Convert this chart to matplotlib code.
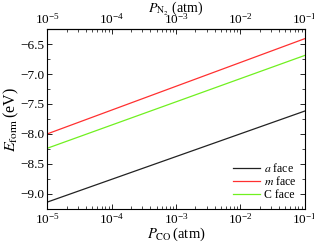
# Formation energy of the three faces against the CO / N2 partial pressure.

import numpy as np
import matplotlib
matplotlib.use("Agg")
import matplotlib.pyplot as plt
from matplotlib.ticker import LogLocator, MultipleLocator, NullFormatter

# Plot configuration.
plt.rcParams["font.family"] = ["Liberation Serif", "DejaVu Serif"]
plt.rcParams["mathtext.fontset"] = "stix"
plt.rcParams["font.size"] = 9.5

# Data: line end points at P = 1e-5 and 1e-1 atm.
pressure = [1e-5, 1e-1]
e_a_face = [-9.14, -7.62]
e_m_face = [-8.00, -6.41]
e_c_face = [-8.24, -6.69]
face_labels = [r"$a$ face", r"$m$ face", "C face"]
face_colors = ["#222222", "#ff3030", "#70f020"]

fig = plt.figure(figsize=(3.14, 2.43), dpi=100)
ax = fig.add_axes([0.151, 0.139, 0.819, 0.741])

for energies, label, color in zip([e_a_face, e_m_face, e_c_face], face_labels, face_colors):
    ax.plot(pressure, energies, color=color, lw=0.9, label=label)

ax.set_xscale("log")
ax.set_xlim(1e-5, 1e-1)
ax.set_ylim(-9.26, -6.25)
ax.yaxis.set_major_locator(MultipleLocator(0.5))
ax.yaxis.set_minor_locator(MultipleLocator(0.25))
ax.xaxis.set_minor_locator(LogLocator(base=10, subs=np.arange(2, 10)))
ax.xaxis.set_minor_formatter(NullFormatter())

ax.tick_params(which="both", direction="in", right=True, pad=2)
ax.tick_params(which="major", length=3.5, width=0.6)
ax.tick_params(which="minor", length=2, width=0.5)
for spine in ax.spines.values():
    spine.set_linewidth(0.8)

ax.set_xlabel(r"$P_{\mathrm{CO}}\,$(atm)", fontsize=10.5, labelpad=-1)
ax.set_ylabel(r"$E_{\mathrm{form}}\,$(eV)", fontsize=11.5, labelpad=0)

# Top axis for the N2 pressure, same scale.
top = ax.secondary_xaxis("top")
top.xaxis.set_minor_locator(LogLocator(base=10, subs=np.arange(2, 10)))
top.xaxis.set_minor_formatter(NullFormatter())
top.tick_params(which="both", direction="in", pad=2)
top.tick_params(which="major", length=3.5, width=0.6)
top.tick_params(which="minor", length=2, width=0.5)
top.set_xlabel(r"$P_{\mathrm{N_2}}$ (atm)", fontsize=10, labelpad=0)

ax.legend(loc="lower right", frameon=False, fontsize=8.5, handlelength=2.3,
          handletextpad=0.3, labelspacing=0.05, borderaxespad=0.3)

fig.savefig("out.png", dpi=100)
plt.close(fig)
